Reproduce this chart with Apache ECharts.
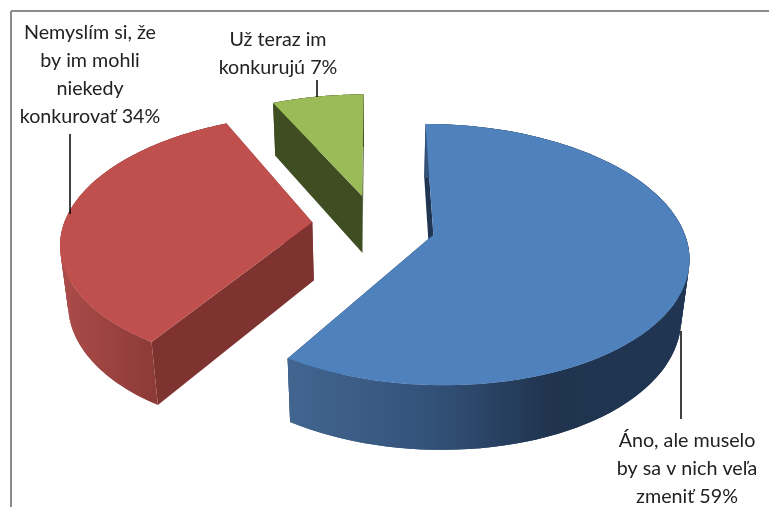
<!DOCTYPE html>
<html><head><meta charset="utf-8">
<style>html,body{margin:0;padding:0;background:#fff}#c{width:769px;height:507px}</style>
<script src="https://cdn.jsdelivr.net/npm/echarts@6/dist/echarts.min.js"></script>
</head><body><div id="c"></div>
<script>
// data
const categories = ['Áno, ale muselo\nby sa v nich veľa\nzmeniť', 'Nemyslím si, že\nby im mohli\nniekedy\nkonkurovať', 'Už teraz im\nkonkurujú'];
const values = [59, 34, 7];

// style and layout of the 3D view
const topColors = ['#4f81bd', '#c0504d', '#9bbb59'];
const faceColors = ['#1f3552', '#7f3331', '#3f4d22'];
const rimStops = [
  [[0, '#426690'], [0.35, '#33527a'], [0.65, '#20344f'], [1, '#1f3552']],
  [[0, '#ab4c49'], [0.55, '#8d3b38'], [1, '#7f3331']],
  [[0, '#3f4d22'], [1, '#3f4d22']]
];
const explode = [[0.24, -0.07], [-0.245, 0.03], [-0.045, 0.25]];
const labelPos = [[687, 427], [90, 19], [278, 26]];
const leaders = [[[681, 331], [681, 419]], [[70, 134], [70, 214]], [[317, 80], [317, 97]]];
const view = { xc: 373, yc: 226, a: 249, b: 125, p: 0.15, s: 0.026, d: 60 };

function project(u, v, h) {
  const w = 1 + view.p * v + view.s * h;
  return [view.xc + view.a * u / w, view.yc + (-view.b * v + view.d * h) / w];
}
const total = values.reduce((s, x) => s + x, 0);

function renderItem(params, api) {
  const i = params.dataIndex;
  const val = api.value(0);
  const before = values.slice(0, i).reduce((s, x) => s + x, 0);
  const t0 = before / total * 2 * Math.PI, t1 = (before + val) / total * 2 * Math.PI;
  const [du, dv] = explode[i];
  const n = 90, arc = [];
  for (let k = 0; k <= n; k++) {
    const t = t0 + (t1 - t0) * k / n;
    arc.push([du + Math.sin(t), dv + Math.cos(t)]);
  }
  const pts = h => arc.map(p => project(p[0], p[1], h));
  const topArc = pts(0), botArc = pts(1);
  const c0 = project(du, dv, 0), c1 = project(du, dv, 1);
  const children = [];
  const poly = (points, fill) => children.push({
    type: 'polygon', shape: { points }, style: { fill, stroke: null }
  });
  poly([c0, topArc[n], botArc[n], c1], faceColors[i]);
  poly([c0, topArc[0], botArc[0], c1], faceColors[i]);
  const xs = topArc.concat(botArc).map(p => p[0]);
  const x0 = Math.min.apply(null, xs), x1 = Math.max.apply(null, xs);
  const stops = rimStops[i].map(s => ({ offset: s[0], color: s[1] }));
  for (let k = 0; k < n; k++) {
    const e = Math.min(n, k + 2);
    const grad = new echarts.graphic.LinearGradient(x0, 0, x1, 0, stops, true);
    poly(topArc.slice(k, e + 1).concat(botArc.slice(k, e + 1).reverse()), grad);
  }
  poly([c0].concat(topArc), topColors[i]);
  children.push({
    type: 'line',
    shape: { x1: leaders[i][0][0], y1: leaders[i][0][1], x2: leaders[i][1][0], y2: leaders[i][1][1] },
    style: { stroke: '#000', lineWidth: 1.5 }
  });
  children.push({
    type: 'text',
    style: {
      x: labelPos[i][0], y: labelPos[i][1],
      text: categories[i] + ' ' + val + '%',
      align: 'center', verticalAlign: 'top',
      fill: '#222', font: '19.7px Lato', lineHeight: 28
    }
  });
  return { type: 'group', children };
}

const chart = echarts.init(document.getElementById('c'), null, { renderer: 'canvas' });
chart.setOption({
  backgroundColor: '#fff',
  animation: false,
  graphic: [
    { type: 'line', shape: { x1: 11, y1: 11, x2: 769, y2: 11 }, style: { stroke: '#8c8c8c', lineWidth: 2 } },
    { type: 'line', shape: { x1: 11, y1: 11, x2: 11, y2: 507 }, style: { stroke: '#8c8c8c', lineWidth: 2 } }
  ],
  series: [{
    type: 'custom',
    coordinateSystem: 'none',
    renderItem,
    data: values.map(v => [v]),
    silent: true
  }]
});
</script></body></html>
